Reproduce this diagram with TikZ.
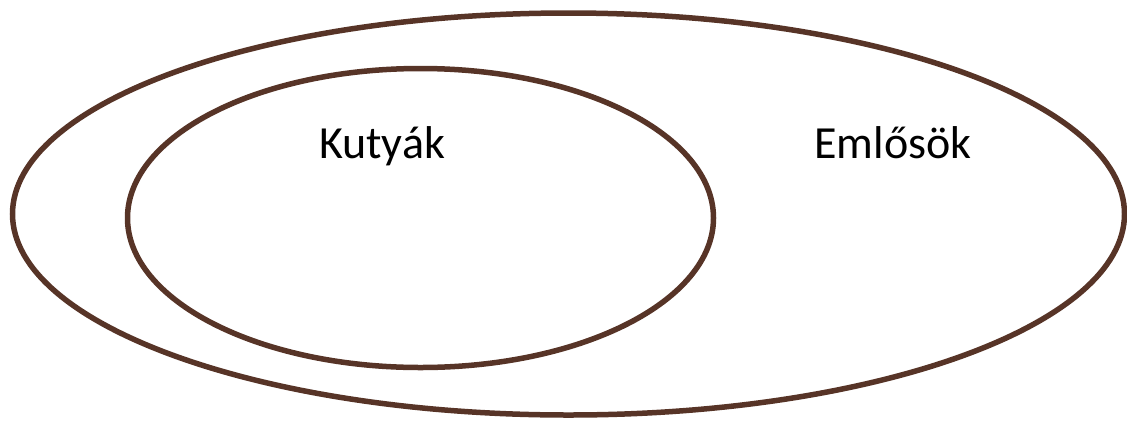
\documentclass[tikz,border=0pt]{standalone}
\usepackage{fontspec}
\setmainfont{Carlito}
\definecolor{ring}{HTML}{573427}
\begin{document}
\begin{tikzpicture}[x=1pt,y=-1pt,
  setring/.style={draw=ring,line width=5.5pt},
  setlabel/.style={anchor=base,font=\fontsize{46}{54}\selectfont,inner sep=0pt}]
\useasboundingbox (0,0) rectangle (1127,424);
\draw[setring] (568.5,214) ellipse [x radius=556, y radius=201];
\draw[setring] (420.5,218) ellipse [x radius=293, y radius=149.5];
\node[setlabel] (kutyak) at (382,158) {Kutyák};
\node[setlabel] (emlosok) at (893,158) {Emlősök};
\end{tikzpicture}
\end{document}
